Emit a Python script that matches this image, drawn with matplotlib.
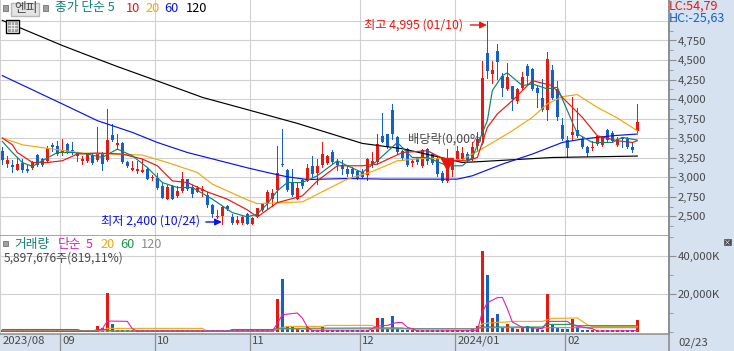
import matplotlib
matplotlib.use("Agg")
import matplotlib.pyplot as plt
from matplotlib.patches import Rectangle
from matplotlib.transforms import ScaledTranslation

plt.rcParams["font.family"] = ["Noto Sans CJK KR", "DejaVu Sans"]

W, H = 734, 351
RED = "#E8170F"
BLUE = "#1560C8"
TEAL = "#128074"
ORANGE = "#F0A80A"
LINE_BLUE = "#0A14E6"
MAGENTA = "#E020B8"
GREEN = "#169848"
GRAY = "#8C8C8C"
PANEL = "#D6E2F0"
GRID = "#D0D0D0"
TXT = "#484848"

opens = [3331, 3168, 3160, 3096, 3181, 3113, 3121, 3284, 3232, 3211, 3416, 3395, 3309, 3425, 3348, 3309,
         3211, 3203, 3288, 3224, 3309, 3220, 3544, 3416, 3438, 3190, 3096, 3083, 3074, 3104, 2989, 2989,
         2891, 2728, 2891, 2762, 2826, 2976, 2882, 2818, 2822, 2771, 2643, 2489, 2506, 2634, 2497, 2420,
         2420, 2536, 2408, 2507, 2579, 2677, 2729, 2836, 3177, 3096, 2934, 2729, 2964, 2955, 3148, 3054,
         3156, 3182, 3319, 3199, 3160, 3113, 3105, 3075, 3071, 3032, 3160, 3190, 3532, 3554, 3866, 3519,
         3340, 3361, 3186, 3254, 3148, 3361, 3297, 3233, 3062, 2955, 3092, 3233, 3229, 3297, 3229, 3404,
         3545, 4592, 4327, 4622, 4293, 4131, 4165, 3981, 4139, 4430, 4387, 4143, 4015, 3861, 4374, 4131,
         3669, 3477, 3545, 3609, 3490, 3383, 3374, 3425, 3413, 3605, 3562, 3417, 3511, 3502, 3391, 3588]
highs = [3382, 3275, 3220, 3254, 3232, 3160, 3203, 3297, 3245, 3403, 3433, 3468, 3489, 3433, 3446, 3327,
         3275, 3309, 3309, 3639, 3318, 3878, 3681, 3553, 3446, 3211, 3211, 3211, 3241, 3126, 3027, 3061,
         2942, 2899, 2899, 2891, 3070, 2985, 2899, 2891, 2891, 2814, 2664, 2583, 2634, 2647, 2527, 2506,
         2514, 2549, 2494, 2613, 2677, 2836, 2848, 3404, 3618, 3105, 3105, 2934, 2985, 3169, 3276, 3233,
         3447, 3284, 3348, 3233, 3220, 3148, 3135, 3083, 3105, 3246, 3319, 3554, 3819, 3554, 3938, 3532,
         3353, 3374, 3233, 3263, 3361, 3370, 3306, 3276, 3075, 3361, 3246, 3404, 3383, 3319, 3447, 3575,
         4494, 4994, 4485, 4708, 4336, 4464, 4173, 4143, 4353, 4451, 4400, 4186, 4259, 4609, 4443, 4237,
         3759, 3532, 4032, 3887, 3519, 3404, 3468, 3545, 3532, 3618, 3596, 3519, 3519, 3511, 3447, 3938]
lows = [3168, 3134, 3074, 3091, 3074, 3074, 3113, 3147, 3147, 3203, 3331, 3284, 3288, 3309, 3297, 3203,
        3177, 3194, 3177, 3203, 3096, 3211, 3468, 3361, 3181, 3126, 3091, 3061, 3070, 2976, 2968, 2856,
        2732, 2720, 2720, 2754, 2818, 2835, 2750, 2814, 2762, 2621, 2493, 2485, 2400, 2587, 2408, 2408,
        2408, 2405, 2402, 2498, 2571, 2613, 2635, 2699, 3143, 2827, 2763, 2720, 2870, 2947, 3007, 2921,
        3135, 3169, 3182, 3092, 3041, 3019, 2989, 2985, 2989, 2964, 3126, 3169, 3447, 3374, 3489, 3297,
        3220, 3148, 3148, 3169, 3135, 3177, 3169, 3019, 2938, 2938, 3019, 3225, 3220, 3212, 3220, 3340,
        3468, 4272, 4203, 4259, 4037, 4122, 3866, 3947, 4131, 4195, 4118, 3896, 3853, 3737, 4002, 3733,
        3481, 3254, 3477, 3515, 3374, 3276, 3348, 3417, 3404, 3468, 3447, 3404, 3383, 3374, 3327, 3584]
closes = [3224, 3224, 3126, 3177, 3091, 3087, 3190, 3160, 3160, 3374, 3382, 3297, 3352, 3327, 3331, 3267,
          3241, 3297, 3181, 3309, 3168, 3480, 3476, 3438, 3190, 3147, 3117, 3096, 3083, 2985, 3010, 2869,
          2741, 2882, 2728, 2826, 2985, 2848, 2784, 2865, 2856, 2643, 2527, 2502, 2621, 2600, 2420, 2450,
          2497, 2400, 2485, 2605, 2656, 2818, 2806, 3062, 3152, 2836, 2771, 2861, 2887, 3118, 3041, 3148,
          3297, 3267, 3190, 3156, 3101, 3049, 3041, 2998, 3007, 3233, 3212, 3425, 3447, 3383, 3554, 3319,
          3246, 3160, 3203, 3190, 3348, 3212, 3182, 3041, 2955, 3148, 3233, 3331, 3314, 3225, 3391, 3489,
          4272, 4366, 4379, 4473, 4143, 4289, 4002, 4131, 4289, 4302, 4131, 4075, 3866, 4515, 4015, 3776,
          3490, 3370, 3584, 3524, 3383, 3310, 3391, 3532, 3524, 3477, 3460, 3490, 3490, 3383, 3353, 3712]
volumes = [800, 900, 800, 900, 800, 900, 800, 800, 900, 800, 900, 800, 800, 900, 800, 800,
           800, 900, 1000, 2980, 1930, 20350, 4030, 1000, 1000, 900, 900, 1000, 800, 800, 800, 800,
           800, 800, 800, 800, 1000, 800, 700, 800, 700, 800, 800, 800, 800, 700, 700, 800,
           800, 800, 800, 800, 800, 800, 1000, 17190, 27700, 2500, 2400, 1200, 1000, 2600, 1000, 1000,
           2600, 900, 900, 900, 1000, 900, 900, 900, 900, 1000, 1000, 7190, 7190, 1230, 8240, 1580,
           1000, 1000, 1000, 700, 700, 800, 700, 800, 800, 1000, 800, 800, 800, 800, 1230, 3000,
           42450, 30000, 7190, 9300, 1900, 4030, 2100, 1600, 2100, 3000, 2400, 1600, 1000, 19800, 3700, 2100,
           1400, 1400, 6800, 2300, 1000, 1000, 1000, 700, 700, 700, 700, 700, 700, 700, 700, 5898]

ma5_x = [0, 2, 4, 6, 8, 11, 14, 17, 20, 23, 26, 29, 32, 35, 38, 42, 46, 49, 51, 53, 55, 57, 60, 63, 67, 69,
         72, 75, 79, 82, 85, 89, 92, 94, 97, 98, 100, 101, 104, 106, 109, 111, 113, 115, 118, 122, 124, 127]
ma5 = [3459, 3318, 3190, 3139, 3212, 3318, 3318, 3298, 3254, 3362, 3276, 3126, 2934, 2870, 2870, 2721, 2549,
       2494, 2532, 2661, 2827, 2934, 2934, 3020, 3212, 3148, 3062, 3212, 3446, 3254, 3254, 3148, 3148, 3254,
       3725, 4109, 4302, 4336, 4173, 4195, 4131, 4152, 3853, 3558, 3446, 3446, 3511, 3477]
ma10_x = [0, 2, 3, 6, 9, 12, 15, 19, 24, 28, 31, 34, 37, 41, 45, 49, 51, 55, 60, 63, 67, 72, 75, 80, 85, 89,
          93, 95, 97, 99, 102, 106, 110, 112, 116, 119, 123, 126, 127]
ma10 = [3503, 3417, 3318, 3190, 3190, 3212, 3298, 3311, 3298, 3234, 3148, 2955, 2934, 2814, 2721, 2584, 2494,
        2677, 2763, 2955, 3148, 3148, 3169, 3318, 3340, 3212, 3212, 3254, 3639, 3810, 3981, 4237, 4173, 4023,
        3767, 3532, 3468, 3446, 3468]
ma20_x = [0, 4, 10, 16, 22, 28, 33, 39, 42, 49, 51, 60, 65, 69, 74, 79, 85, 92, 93, 97, 102, 106, 109, 112,
          115, 119, 123, 127]
ma20 = [3503, 3417, 3362, 3311, 3298, 3285, 3190, 3062, 2913, 2712, 2664, 2686, 2849, 2977, 3075, 3212, 3246,
        3221, 3263, 3404, 3596, 3767, 3939, 4032, 4058, 3895, 3759, 3596]
ma60_x = [0, 12, 19, 26, 31, 37, 49, 53, 57, 61, 69, 77, 91, 94, 100, 106, 112, 116, 122, 127]
ma60 = [4301, 3939, 3725, 3575, 3446, 3318, 3122, 3062, 3007, 2972, 2985, 2977, 2977, 3020, 3169, 3298, 3446,
        3490, 3532, 3554]
ma120_x = [0, 12, 16, 23, 31, 40, 49, 59, 72, 80, 88, 92, 96, 110, 127]
ma120 = [5007, 4686, 4587, 4417, 4233, 4023, 3866, 3690, 3434, 3366, 3250, 3190, 3203, 3254, 3272]

vol5_x = [0, 19, 20, 21, 25, 26, 27, 54, 55, 56, 59, 60, 61, 62, 73, 75, 77, 79, 80, 81, 82, 83, 95, 96, 97,
          99, 100, 101, 102, 104, 106, 108, 109, 113, 114, 116, 118, 119, 127]
vol5 = [175, 175, 1580, 5610, 5440, 1580, 350, 350, 4210, 8950, 9820, 7190, 2460, 530, 350, 2980, 3330, 4910,
        4740, 2280, 1580, 350, 530, 10350, 15260, 17890, 18070, 12100, 5090, 2280, 2100, 1580, 5440, 5440, 3330,
        2460, 1580, 350, 530]
vol20_x = [0, 20, 21, 40, 41, 54, 55, 57, 64, 65, 74, 75, 82, 95, 96, 99, 101, 102, 108, 110, 115, 117, 118, 127]
vol20 = [530, 530, 1750, 1750, 175, 175, 1580, 2800, 2800, 3330, 3330, 2000, 1580, 1580, 4210, 4910, 5090, 5440,
         5440, 7020, 7190, 3680, 2800, 2800]
vol60_x = [0, 15, 16, 18, 19, 21, 22, 45, 46, 54, 55, 73, 80, 81, 95, 96, 108, 109, 114, 115, 127]
vol60 = [1150, 1150, 300, 300, 1150, 1150, 300, 300, 1150, 1150, 1750, 1930, 1930, 1580, 1580, 2460, 2460, 3860,
         3860, 3160, 3160]
vol120_x = [0, 54, 55, 95, 96, 127]
vol120 = [350, 350, 1400, 1580, 2100, 2100]

price_ticks = [2500, 2750, 3000, 3250, 3500, 3750, 4000, 4250, 4500, 4750]
vol_ticks = [20000, 40000]
month_pos = [-0.4, 11.6, 30.6, 49.6, 71.6, 90.6, 112.6]
month_labels = ["2023/08", "09", "10", "11", "12", "2024/01", "02"]


def fx(x):
    return x / W


def fy(y):
    return 1 - y / H


def price_at(y):
    return 4750 - (y - 40.5) / 0.0782


def vol_at(y):
    return (331.7 - y) / 38 * 20000


fig = plt.figure(figsize=(W / 100, H / 100), dpi=100, facecolor=PANEL)
ax = fig.add_axes([0, fy(235.5), fx(669), 235.5 / H])
ax2 = fig.add_axes([0, fy(333.7), fx(669), (333.7 - 235.5) / H])

x_left = (0 - 2.33) / 5
x_right = (669 - 2.33) / 5
idx = list(range(len(closes)))
for a in (ax, ax2):
    a.set_xlim(x_left, x_right)
    a.set_xticks(month_pos)
    a.grid(True, color=GRID, lw=0.8, zorder=0)
    a.set_axisbelow(True)
    a.spines["top"].set_visible(False)
    a.spines["left"].set_visible(False)
    a.spines["right"].set_color("#8E8E8E")
    a.spines["right"].set_linewidth(1.4)
    a.spines["bottom"].set_color("#8E8E8E")
    a.spines["bottom"].set_linewidth(1.1)
    a.yaxis.tick_right()
    a.tick_params(axis="y", which="major", length=5, color="#8E8E8E", labelcolor=TXT, labelsize=8.2, pad=1.5)
    a.tick_params(axis="y", which="minor", length=3, color="#8E8E8E")
ax.set_ylim(price_at(235.5), price_at(0))
ax.set_yticks(price_ticks + [5000])
ax.set_yticks([t + 125 for t in price_ticks] + [2375], minor=True)
ax.set_yticklabels([f"{t:,}" for t in price_ticks] + [""])
ax.tick_params(axis="x", length=0, labelbottom=False)

ax2.set_ylim(vol_at(333.7), vol_at(235.5))
ax2.set_yticks(vol_ticks)
ax2.set_yticklabels([f"{t:,}K" for t in vol_ticks])
ax2.set_yticks([0, 10000, 30000, 50000], minor=True)
ax2.tick_params(axis="x", length=0, labelsize=8.2, labelcolor=TXT, pad=1.5)
ax2.set_xticklabels(month_labels, ha="left")
for lab in ax2.get_xticklabels():
    lab.set_transform(lab.get_transform() + ScaledTranslation(0.02, 0, fig.dpi_scale_trans))

# candles
colors = [RED if c >= o else BLUE for o, c in zip(opens, closes)]
bodies = [max(abs(c - o), 20) for o, c in zip(opens, closes)]
bottoms = [min(o, c) for o, c in zip(opens, closes)]
ax.vlines(idx, lows, highs, colors=colors, lw=0.7, zorder=3, antialiased=False)
ax.bar(idx, bodies, bottom=bottoms, width=0.68, color=colors, lw=0, zorder=3)

for xs, ys, c in [(ma120_x, ma120, "black"), (ma60_x, ma60, LINE_BLUE), (ma20_x, ma20, ORANGE),
                  (ma10_x, ma10, RED), (ma5_x, ma5, TEAL)]:
    ax.plot(xs, ys, color=c, lw=0.85, zorder=4)

# ex-dividend marker
ax.plot([89], [3167], marker="v", ms=8, color=RED, zorder=4, ls="none")
ax.text(81.2, price_at(139.5), "배당락(0,00%)", color=TXT, fontsize=8.8, va="center", ha="left", zorder=6)

# high / low notes
ax.text(72.3, price_at(25.5), "최고 4,995 (01/10)", color=RED, fontsize=8.8, va="center", ha="left", zorder=6)
ax.annotate("", xy=(96.9, price_at(25)), xytext=(93.6, price_at(25)), zorder=6,
            arrowprops=dict(arrowstyle="-|>", color=RED, lw=1, mutation_scale=10, shrinkA=0, shrinkB=0))
ax.text(19.8, price_at(221.5), "최저 2,400 (10/24)", color="#0A14E6", fontsize=8.8, va="center", ha="left", zorder=6)
ax.annotate("", xy=(43.9, price_at(222)), xytext=(40.7, price_at(222)), zorder=6,
            arrowprops=dict(arrowstyle="-|>", color="#0A14E6", lw=1, mutation_scale=10, shrinkA=0, shrinkB=0))

# volume
ax2.bar(idx, volumes, width=0.68, color=colors, lw=0, zorder=3)
for xs, ys, c in [(vol20_x, vol20, ORANGE), (vol60_x, vol60, GREEN), (vol120_x, vol120, GRAY), (vol5_x, vol5, MAGENTA)]:
    ax2.plot(xs, ys, color=c, lw=0.8, zorder=4)

# bottom strip separators
for p in month_pos[1:]:
    x = 2.33 + p * 5
    fig.add_artist(plt.Line2D([fx(x), fx(x)], [0, fy(333.7)], color="#8E8E8E", lw=0.9))
fig.add_artist(plt.Line2D([fx(669), fx(669)], [0, fy(333.7)], color="#8E8E8E", lw=1.2))
fig.text(fx(678), fy(342.5), "02/23", color=TXT, fontsize=8.2, va="center", ha="left")


def box(x0, y0, x1, y1, **kw):
    fig.add_artist(Rectangle((fx(x0), fy(y1)), (x1 - x0) / W, (y1 - y0) / H, transform=fig.transFigure, **kw))


def label(x, y, s, c, fs=9.2):
    fig.text(fx(x), fy(y), s, color=c, fontsize=fs, va="center", ha="left", zorder=10)


# top legend row
box(3, 5, 8, 11, fc="#A0A0A0", ec="#808080", lw=0.7)
box(11, 2.5, 39, 15.5, fc="#E4E4E4", ec="#B8B8B8", lw=1)
box(43, 5, 48, 11, fc="#A0A0A0", ec="#808080", lw=0.7)
label(14.5, 8.5, "엔피", TXT)
label(55, 8, "종가 단순 5", TEAL)
label(126, 8, "10", RED)
label(145, 8, "20", ORANGE)
label(164, 8, "60", LINE_BLUE)
label(186, 8, "120", "black")

# table icon
box(5.5, 19.5, 18.5, 32.5, fc="white", ec="black", lw=1)
box(7.5, 21.5, 16.5, 30.5, fc="#A8A8A8", ec="#808080", lw=0.5)
for gx in (10.5, 13.5):
    fig.add_artist(plt.Line2D([fx(gx), fx(gx)], [fy(21.5), fy(30.5)], color="white", lw=0.5))
for gy in (24.5, 27.5):
    fig.add_artist(plt.Line2D([fx(7.5), fx(16.5)], [fy(gy), fy(gy)], color="white", lw=0.5))

label(669, 6, "LC:54,79", RED, 9)
label(669, 18, "HC:-25,63", BLUE, 9)

# volume legend
box(3, 241, 8, 246, fc="#A0A0A0", ec="#808080", lw=0.7)
label(14, 244.5, "거래량", TEAL)
label(58, 244.5, "단순", MAGENTA)
label(86, 244.5, "5", MAGENTA)
label(100, 244.5, "20", ORANGE)
label(120, 244.5, "60", GREEN)
label(141, 244.5, "120", GRAY)
label(4, 258, "5,897,676주(819,11%)", TXT, 8.6)

# close icon on the right panel
box(724, 239, 731, 245, fc="#505050", ec="#505050", lw=0.5)
fig.text(fx(727.5), fy(242), "×", color="white", fontsize=5, va="center", ha="center", zorder=10)

fig.savefig("out.png", dpi=100, facecolor=PANEL)
